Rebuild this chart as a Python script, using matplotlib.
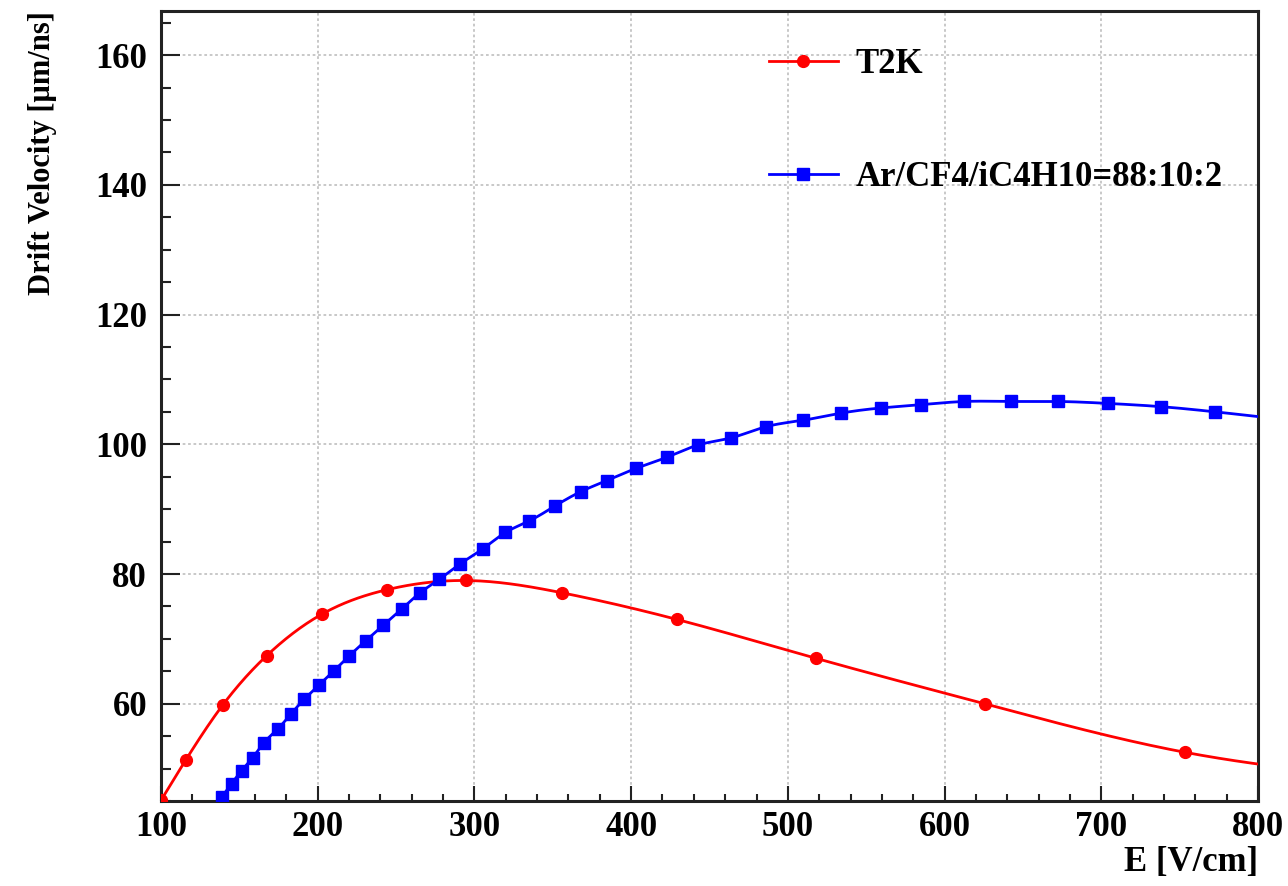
import numpy as np
import matplotlib
matplotlib.use('Agg')
import matplotlib.pyplot as plt
from matplotlib.ticker import MultipleLocator

# Data (E in V/cm, drift velocity in um/ns)
t2k_e = [100, 116, 139.4, 167.4, 202.6, 244.5, 294.5, 356, 429.2, 518, 625.5, 753.7, 895]
t2k_v = [45.1, 51.4, 59.8, 67.4, 73.8, 77.6, 79.0, 77.1, 73.0, 67.0, 60.0, 52.5, 48.2]

ar_e = [138.7, 145.1, 151.5, 158.5, 165.7, 174.5, 182.8, 191.5, 200.9, 210.4,
        220.2, 230.6, 241.9, 253.6, 265.3, 277.7, 291.1, 305.5, 319.8, 335.1,
        351.5, 367.9, 384.4, 403.3, 422.8, 442.9, 464.0, 485.9, 509.6, 533.9,
        559.5, 585.0, 612.6, 642.6, 672.7, 704.2, 738.1, 772.7, 810]
ar_v = [45.6, 47.7, 49.7, 51.7, 54.0, 56.1, 58.4, 60.7, 62.9, 65.1,
        67.4, 69.7, 72.1, 74.6, 77.1, 79.2, 81.6, 83.9, 86.4, 88.2,
        90.5, 92.7, 94.4, 96.3, 98.0, 99.9, 101.0, 102.7, 103.7, 104.8,
        105.6, 106.1, 106.6, 106.6, 106.6, 106.3, 105.8, 105.0, 104.0]

labels = ['T2K', 'Ar/CF4/iC4H10=88:10:2']


def smooth(x, y, n=40):
    # natural cubic spline through the points (ROOT "C" style curve)
    x = np.asarray(x, float)
    y = np.asarray(y, float)
    m = len(x)
    h = np.diff(x)
    A = np.zeros((m, m))
    b = np.zeros(m)
    A[0, 0] = A[-1, -1] = 1
    for i in range(1, m - 1):
        A[i, i - 1] = h[i - 1]
        A[i, i] = 2 * (h[i - 1] + h[i])
        A[i, i + 1] = h[i]
        b[i] = 6 * ((y[i + 1] - y[i]) / h[i] - (y[i] - y[i - 1]) / h[i - 1])
    M = np.linalg.solve(A, b)
    xs, ys = [], []
    for i in range(m - 1):
        t = np.linspace(x[i], x[i + 1], n, endpoint=False)
        a = x[i + 1] - t
        c = t - x[i]
        s = (M[i] * a**3 + M[i + 1] * c**3) / (6 * h[i]) \
            + (y[i] / h[i] - M[i] * h[i] / 6) * a \
            + (y[i + 1] / h[i] - M[i + 1] * h[i] / 6) * c
        xs.append(t)
        ys.append(s)
    xs.append([x[-1]])
    ys.append([y[-1]])
    return np.concatenate(xs), np.concatenate(ys)


plt.rcParams['font.family'] = ['Liberation Serif', 'DejaVu Serif']
plt.rcParams['font.weight'] = 'bold'
plt.rcParams['axes.labelweight'] = 'bold'

fig = plt.figure(figsize=(12.88, 8.86), dpi=100)
ax = fig.add_axes([0.125, 0.0959, 0.8517, 0.8917])

sx, sy = smooth(t2k_e, t2k_v)
ax.plot(sx, sy, color='#ff0000', lw=2.0, zorder=3)
ax.plot(t2k_e, t2k_v, 'o', color='#ff0000', ms=8.5, zorder=4)
bx, by = smooth(ar_e, ar_v)
ax.plot(bx, by, color='#0000ff', lw=2.0, zorder=3)
ax.plot(ar_e, ar_v, 's', color='#0000ff', ms=9, zorder=4)

# legend handles
h1, = ax.plot([], [], '-o', color='#ff0000', lw=2.0, ms=8.5)
h2, = ax.plot([], [], '-s', color='#0000ff', lw=2.0, ms=9)
leg = ax.legend([h1, h2], labels, loc='upper left', bbox_to_anchor=(0.554, 0.953),
                frameon=False, fontsize=25, handlelength=2.0, handletextpad=0.5,
                labelspacing=2.3, borderpad=0, borderaxespad=0, numpoints=1)

ax.set_xlim(100, 800)
ax.set_ylim(45, 166.8)
ax.xaxis.set_major_locator(MultipleLocator(100))
ax.xaxis.set_minor_locator(MultipleLocator(20))
ax.yaxis.set_major_locator(MultipleLocator(20))
ax.yaxis.set_minor_locator(MultipleLocator(5))

ax.tick_params(axis='both', which='both', direction='in', top=False, right=False,
               width=1.5, color='#222222')
ax.tick_params(axis='x', which='major', length=11, pad=7, labelsize=25)
ax.tick_params(axis='x', which='minor', length=5)
ax.tick_params(axis='y', which='major', length=14, pad=10, labelsize=25)
ax.tick_params(axis='y', which='minor', length=7)

ax.grid(True, which='major', color='#c4c4c4', lw=1.3, linestyle=(0, (1.5, 1.5)))
ax.set_axisbelow(True)
for sp in ax.spines.values():
    sp.set_linewidth(2.2)
    sp.set_color('#222222')

ax.set_xlabel('E [V/cm]', fontsize=25, fontweight='bold', loc='right')
ax.xaxis.set_label_coords(1.0, -0.057)
ax.set_ylabel('Drift Velocity [\u03bcm/ns]', fontsize=22, fontweight='bold', loc='top')
ax.yaxis.set_label_coords(-0.095, 1.0)

fig.savefig('out.png', dpi=100)
